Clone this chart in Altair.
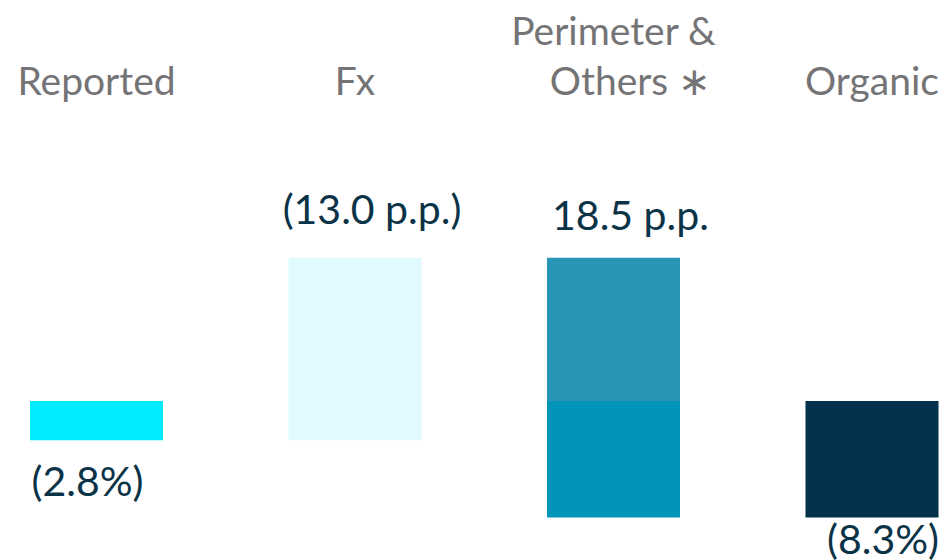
import altair as alt
import pandas as pd

# Data
categories = ["Reported", "Fx", "Perimeter & Others ∗", "Organic"]
header_top = ["", "", "Perimeter &", ""]
header_bottom = ["Reported", "Fx", "Others ∗", "Organic"]
values = [-2.8, -13.0, 18.5, -8.3]
value_labels = ["(2.8%)", "(13.0 p.p.)", "18.5 p.p.", "(8.3%)"]

# Waterfall construction: Reported from 0, then subtract Fx and Perimeter, Organic from 0
start_rep, end_rep = 0.0, values[0]
start_fx, end_fx = end_rep, end_rep - values[1]
start_per, end_per = end_fx, end_fx - values[2]
start_org, end_org = 0.0, values[3]

bars = pd.DataFrame({
    "cat": [categories[0], categories[1], categories[2], categories[2], categories[3]],
    "y0": [start_rep, start_fx, start_per, 0.0, start_org],
    "y1": [end_rep, end_fx, 0.0, end_per, end_org],
    "seg": ["rep", "fx", "per_up", "per_down", "org"],
})
colors_dom = ["rep", "fx", "per_up", "per_down", "org"]
colors_rng = ["#00ebfd", "#e0fafd", "#2894b6", "#0094b8", "#03304a"]

labels = pd.DataFrame({
    "cat": categories,
    "label": value_labels,
    "anchor": [end_rep, end_fx, start_per, end_org],
})
headers = pd.DataFrame({"cat": categories, "top": header_top, "bottom": header_bottom})

xscale = alt.Scale(type="point", domain=categories, range=[96.5, 872], padding=0)
yscale = alt.Scale(domain=[-11.32, 28.54], nice=False, zero=False)

base_x = alt.X("cat:N", scale=xscale, axis=None)

bar_layer = alt.Chart(bars).mark_bar(size=133).encode(
    x=base_x,
    y=alt.Y("y0:Q", scale=yscale, axis=None),
    y2="y1:Q",
    color=alt.Color("seg:N", scale=alt.Scale(domain=colors_dom, range=colors_rng), legend=None),
)

hdr_style = dict(font="Lato", fontSize=39, color="#747476", baseline="alphabetic", align="center")

header_bottom_layer = alt.Chart(headers).mark_text(**hdr_style).encode(
    x=base_x, y=alt.value(95), text="bottom:N"
).transform_filter(alt.datum.cat != categories[2])

header_bottom_per = alt.Chart(headers).mark_text(dx=17, **hdr_style).encode(
    x=base_x, y=alt.value(95), text="bottom:N"
).transform_filter(alt.datum.cat == categories[2])

header_top_layer = alt.Chart(headers).mark_text(**hdr_style).encode(
    x=base_x, y=alt.value(45), text="top:N"
).transform_filter(alt.datum.top != "")

offsets = {
    categories[0]: (-9, 56),
    categories[1]: (17, -34),
    categories[2]: (17, -28),
    categories[3]: (11, 36),
}
label_layers = []
for c, (dx, dy) in offsets.items():
    label_layers.append(
        alt.Chart(labels).mark_text(
            font="Lato", fontSize=41, color="#0b3347", baseline="alphabetic", align="center", dx=dx, dy=dy
        ).encode(
            x=base_x,
            y=alt.Y("anchor:Q", scale=yscale, axis=None),
            text="label:N",
        ).transform_filter(alt.datum.cat == c)
    )

chart = alt.layer(bar_layer, header_bottom_layer, header_bottom_per, header_top_layer, *label_layers).properties(
    width=946, height=560, padding=0, autosize=alt.AutoSizeParams(type="none"), background="white"
).configure_view(stroke=None)

chart.save("out.html", embed_options={"renderer": "svg", "actions": False})
